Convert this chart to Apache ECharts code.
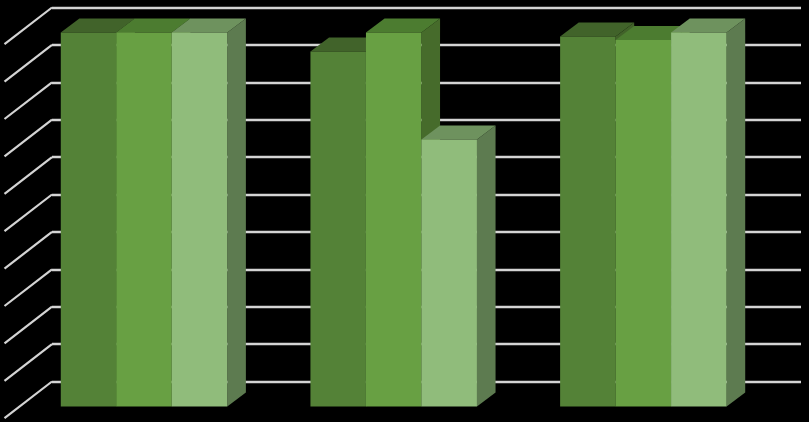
<!DOCTYPE html>
<html>
<head>
<meta charset="utf-8">
<style>html,body{margin:0;padding:0;background:#000}#c{width:809px;height:422px}</style>
<script src="https://cdn.jsdelivr.net/npm/echarts@6/dist/echarts.min.js"></script>
</head>
<body>
<div id="c"></div>
<script>
var categories = ['Group 1', 'Group 2', 'Group 3'];
var seriesA = [100, 94.9, 98.9];
var seriesB = [100, 100, 98];
var seriesC = [100, 71.4, 100];
var tickValues = [0, 10, 20, 30, 40, 50, 60, 70, 80, 90, 100];

var barRatio = 0.2223, barDX = 18.6, barDY = 14;
var shiftX = -32.8, shiftY = 25;
var wallDX = 47.5, wallDY = 36.7;

function barSeries(name, values, idx, front, top, side) {
  return {
    name: name, type: 'custom', coordinateSystem: 'cartesian2d', clip: false,
    data: values.map(function (v, i) { return [i, v]; }),
    encode: { x: 0, y: 1 },
    renderItem: function (params, api) {
      var t = api.coord([api.value(0), api.value(1)]);
      var b = api.coord([api.value(0), 0]);
      var w = api.size([1, 0])[0] * barRatio;
      var x0 = t[0] + shiftX + (idx - 1.5) * w, x1 = x0 + w;
      var yt = t[1] + shiftY, yb = b[1] + shiftY;
      return { type: 'group', children: [
        { type: 'polygon', shape: { points: [[x1, yt], [x1 + barDX, yt - barDY], [x1 + barDX, yb - barDY], [x1, yb]] }, style: { fill: side } },
        { type: 'polygon', shape: { points: [[x0, yt], [x0 + barDX, yt - barDY], [x1 + barDX, yt - barDY], [x1, yt]] }, style: { fill: top } },
        { type: 'rect', shape: { x: x0, y: yt, width: w, height: yb - yt }, style: { fill: front } }
      ] };
    }
  };
}

var chart = echarts.init(document.getElementById('c'));
chart.setOption({
  animation: false,
  backgroundColor: '#000000',
  grid: { left: 52, right: 8, top: 7.5, bottom: 40.5 },
  xAxis: { type: 'category', data: categories, boundaryGap: true, axisLine: { show: false }, axisTick: { show: false }, axisLabel: { show: false }, splitLine: { show: false } },
  yAxis: { type: 'value', min: 0, max: 100, interval: 10, axisLine: { show: false }, axisTick: { show: false }, axisLabel: { show: false },
    splitLine: { show: true, lineStyle: { color: '#d4d4d4', width: 2.4 } } },
  series: [
    { name: 'wall', type: 'custom', coordinateSystem: 'cartesian2d', clip: false,
      data: tickValues.map(function (v) { return [0, v]; }),
      encode: { x: 0, y: 1 },
      renderItem: function (params, api) {
        var p = api.coord([0, api.value(1)]);
        var x = params.coordSys.x;
        return { type: 'line', shape: { x1: x, y1: p[1], x2: x - wallDX, y2: p[1] + wallDY }, style: { stroke: '#d4d4d4', lineWidth: 2.2, fill: null } };
      }
    },
    barSeries('A', seriesA, 0, '#548237', '#41632a', '#416229'),
    barSeries('B', seriesB, 1, '#68a043', '#4c7c30', '#466b2b'),
    barSeries('C', seriesC, 2, '#90bc7b', '#6e925e', '#5d7b50')
  ]
});
</script>
</body>
</html>
